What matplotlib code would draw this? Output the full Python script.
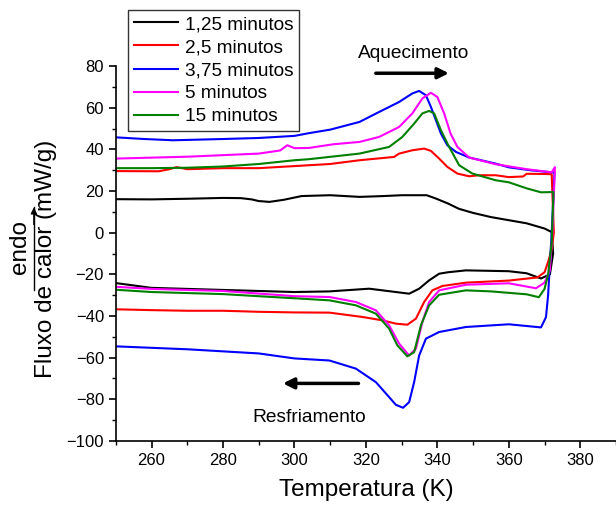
import matplotlib
matplotlib.use('Agg')
import numpy as np
import matplotlib.pyplot as plt
from matplotlib.ticker import MultipleLocator

plt.rcParams['font.family'] = ['Liberation Sans', 'DejaVu Sans']

rotulos = ['1,25 minutos', '2,5 minutos', '3,75 minutos', '5 minutos', '15 minutos']
cores = ['#000000', '#ff0000', '#0000ff', '#ff00ff', '#008000']

# aquecimento (T crescente) -> resfriamento (T decrescente)
T_aq_125 = [250, 260, 270, 280, 285, 288, 290, 293, 297, 302, 310, 318.2, 325, 330, 337, 339.6, 343, 346, 350, 355, 360, 365, 370, 372]
Y_aq_125 = [16.1, 16.0, 16.3, 16.7, 16.6, 16.0, 15.2, 14.8, 15.8, 17.6, 18.0, 17.2, 17.6, 18.0, 18.0, 16.4, 14.0, 11.5, 9.5, 7.5, 6.0, 4.5, 2.0, 0.3]
T_rf_125 = [372.4, 371.5, 369, 365, 360, 348, 343, 340.5, 337.7, 334.9, 332.1, 328.4, 320.9, 309.8, 300, 290, 280, 270, 260, 250]
Y_rf_125 = [-10, -20.0, -22.0, -19.5, -18.5, -18.1, -19.0, -19.7, -22.9, -26.9, -29.3, -28.5, -26.9, -28.2, -28.5, -28.0, -27.5, -27.0, -26.5, -24.2]

T_aq_25 = [250, 262, 265, 267, 270, 280, 290, 300, 310, 318.2, 327.9, 329.3, 333, 336.3, 338.2, 340.5, 342.8, 345.6, 348.9, 351.7, 356.3, 360, 364, 365, 370, 372]
Y_aq_25 = [29.6, 29.5, 30.5, 31.5, 30.5, 31.0, 31.0, 32.0, 33.0, 34.8, 36.4, 38.0, 39.6, 40.4, 39.3, 35.6, 31.6, 28.4, 27.1, 27.6, 27.6, 26.7, 27.0, 28.3, 28.2, 28.1]
T_rf_25 = [372.6, 372, 371, 370, 368, 360, 348, 341.4, 338.6, 336.3, 334, 331.6, 328.4, 324.6, 319.1, 309.8, 300, 290, 280, 270, 260, 250]
Y_rf_25 = [0, -8, -14, -19.0, -21.5, -23.0, -24.0, -25.6, -27.7, -33.3, -41.3, -44.2, -43.7, -42.1, -40.5, -38.4, -38.3, -38.0, -37.5, -37.5, -37.2, -36.8]

T_aq_375 = [250, 258, 266, 280, 290, 300, 304, 310, 318.2, 323.7, 329.3, 333, 334.9, 336.8, 338.2, 339.6, 341, 342.8, 345.2, 348.9, 356.3, 360, 366, 372]
Y_aq_375 = [45.8, 45.0, 44.4, 45.0, 45.5, 46.5, 47.8, 49.5, 53.2, 58.0, 62.8, 66.9, 68.1, 66.0, 60.4, 54.0, 47.6, 42.0, 38.8, 36.1, 33.2, 31.4, 30.0, 29.0]
T_rf_375 = [372.8, 372, 371, 370.4, 369, 360, 348, 340.5, 336.8, 334.9, 333.5, 332.1, 330.4, 328.4, 326.1, 322.8, 317.2, 309.8, 300, 290, 280, 270, 250]
Y_rf_375 = [29, 0, -30, -40.6, -45.5, -44.0, -45.3, -47.7, -50.9, -59.0, -71.8, -81.4, -84.1, -82.7, -78.2, -71.8, -65.3, -61.4, -60.4, -58.0, -57.0, -56.0, -54.6]

T_aq_5 = [250, 270, 290, 296, 298, 300, 304, 311, 318.2, 323.7, 329.3, 333, 335.8, 338.2, 340, 341.9, 343.7, 345.6, 348.9, 356.3, 365, 372]
Y_aq_5 = [35.6, 36.5, 38.0, 39.5, 42.0, 40.6, 40.7, 42.5, 43.6, 46.0, 50.8, 57.3, 64.5, 67.2, 65.2, 57.3, 47.6, 41.2, 36.1, 32.9, 30.5, 29.0]
T_rf_5 = [372.9, 372.2, 371.5, 370, 367.6, 360, 348, 340.5, 337.7, 335.8, 334, 332.1, 329.3, 326.5, 322.8, 317.2, 309.8, 300, 280, 260, 250]
Y_rf_5 = [31.5, 0, -18, -24.0, -26.7, -24.3, -25.0, -27.7, -33.3, -42.9, -55.7, -59.0, -53.3, -44.5, -37.3, -33.3, -30.9, -30.5, -28.0, -27.0, -26.0]

T_aq_15 = [250, 260, 270, 280, 290, 300, 304, 318.2, 326.5, 330.2, 333.5, 335.8, 337.7, 339.1, 341, 343.3, 346.1, 349.8, 356.3, 360, 365, 369, 372]
Y_aq_15 = [31.0, 31.0, 31.2, 31.8, 33.0, 34.8, 35.3, 38.0, 41.2, 46.0, 52.4, 57.3, 58.5, 57.3, 49.2, 41.2, 32.4, 28.4, 25.2, 24.2, 21.3, 19.4, 19.5]
T_rf_15 = [372.5, 372, 371, 370, 368.4, 365, 355, 348, 340.5, 337.7, 335.4, 333.5, 331.6, 328.8, 326.5, 322.8, 317.2, 309.8, 300, 280, 260, 250]
Y_rf_15 = [19.5, -5, -20, -27, -31.0, -29.6, -28.2, -27.7, -29.8, -34.9, -44.5, -57.4, -59.4, -54.1, -46.1, -38.9, -34.9, -32.5, -31.5, -29.5, -28.5, -27.4]

series = [
    (T_aq_125 + T_rf_125, Y_aq_125 + Y_rf_125),
    (T_aq_25 + T_rf_25, Y_aq_25 + Y_rf_25),
    (T_aq_375 + T_rf_375, Y_aq_375 + Y_rf_375),
    (T_aq_5 + T_rf_5, Y_aq_5 + Y_rf_5),
    (T_aq_15 + T_rf_15, Y_aq_15 + Y_rf_15),
]

fig = plt.figure(figsize=(6.16, 5.05), dpi=100)
ax = fig.add_axes([0.188, 0.127, 0.812, 0.742])

linhas = []
for (t, y), cor, rot in zip(series, cores, rotulos):
    l, = ax.plot(t, y, color=cor, lw=1.5, label=rot, solid_joinstyle='round')
    linhas.append(l)

ax.set_xlim(250, 390)
ax.set_ylim(-100, 80)
ax.xaxis.set_major_locator(MultipleLocator(20))
ax.xaxis.set_minor_locator(MultipleLocator(10))
ax.yaxis.set_major_locator(MultipleLocator(20))
ax.yaxis.set_minor_locator(MultipleLocator(10))
ax.spines['top'].set_visible(False)
ax.spines['right'].set_visible(False)
ax.spines['left'].set_linewidth(1.2)
ax.spines['bottom'].set_linewidth(1.2)
ax.tick_params(which='major', direction='out', length=5, width=1.2, labelsize=12)
ax.tick_params(which='minor', direction='out', length=3, width=1.0)

ax.set_xlabel('Temperatura (K)', fontsize=17.5, labelpad=8)

# rótulo do eixo y com "endo" e seta
fig.text(0.075, 0.487, 'Fluxo de calor (mW/g)', rotation=90, fontsize=17.5,
         ha='center', va='center')
fig.text(0.033, 0.51, 'endo', rotation=90, fontsize=17.5, ha='center', va='center')
fig.add_artist(plt.Line2D([0.055, 0.055], [0.426, 0.59], color='k', lw=1,
                          transform=fig.transFigure))
ax.annotate('', xy=(0.055, 0.595), xytext=(0.055, 0.55), xycoords='figure fraction',
            textcoords='figure fraction',
            arrowprops=dict(arrowstyle='-|>', color='k', lw=1, mutation_scale=9))

# setas de aquecimento / resfriamento
ax.text(333.5, 86.2, 'Aquecimento', fontsize=13.8, ha='center', va='center', clip_on=False)
ax.annotate('', xy=(344, 76.6), xytext=(322, 76.6), annotation_clip=False,
            arrowprops=dict(arrowstyle='-|>', color='k', lw=2.5, mutation_scale=16))
ax.text(304.2, -88.8, 'Resfriamento', fontsize=13.8, ha='center', va='center')
ax.annotate('', xy=(296, -72.4), xytext=(318.7, -72.4),
            arrowprops=dict(arrowstyle='-|>', color='k', lw=2.5, mutation_scale=16))

fig.legend(handles=linhas, loc='upper left', bbox_to_anchor=(0.208, 0.98),
           bbox_transform=fig.transFigure, fontsize=13.7, frameon=True, fancybox=False,
           edgecolor='#333333', framealpha=1, borderaxespad=0, handlelength=2.3,
           labelspacing=0.3, borderpad=0.3, handletextpad=0.4)

fig.savefig('out.png', dpi=100)
